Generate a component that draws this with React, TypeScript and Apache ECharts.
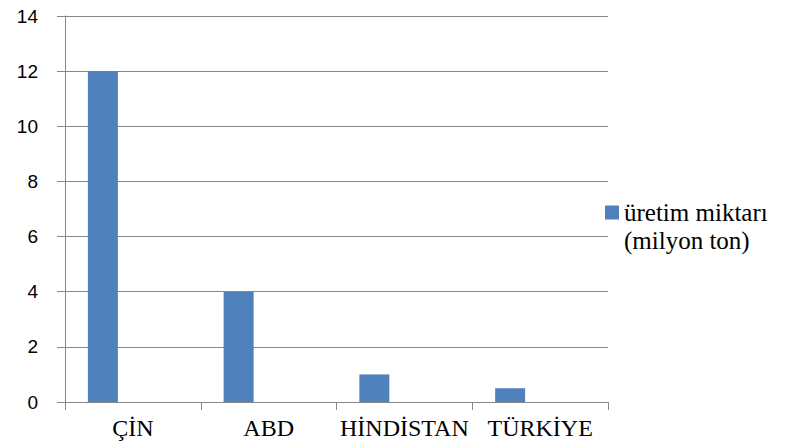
import React, { useEffect, useRef } from "react";
import * as echarts from "echarts";

const categories = ["ÇİN", "ABD", "HİNDİSTAN", "TÜRKİYE"];
const productionValues = [12, 4, 1, 0.5];
const emptyValues = [null, null, null, null];
const seriesName = "üretim miktarı (milyon ton)";
const legendLines = ["üretim miktarı", "(milyon ton)"];

export default function App() {
  const ref = useRef<HTMLDivElement>(null);

  useEffect(() => {
    if (!ref.current) return;
    const chart = echarts.init(ref.current, null, { renderer: "svg" });
    const gray = "#878787";
    chart.setOption({
      animation: false,
      backgroundColor: "#ffffff",
      textStyle: { fontFamily: "Liberation Serif", color: "#000" },
      grid: { left: 65, right: 183, top: 16, bottom: 43, containLabel: false },
      legend: {
        data: [seriesName],
        left: 605,
        top: 200,
        padding: 0,
        orient: "vertical",
        selectedMode: false,
        itemWidth: 14,
        itemHeight: 14,
        icon: "rect",
        formatter: () => legendLines[0],
        textStyle: {
          fontFamily: "Liberation Serif",
          fontSize: 25,
          color: "#000",
        },
      },
      graphic: [
        {
          type: "text",
          left: 624,
          top: 228,
          style: {
            text: legendLines[1],
            font: "25px 'Liberation Serif', 'Times New Roman', serif",
            fill: "#000",
          },
        },
      ],
      xAxis: {
        type: "category",
        data: categories,
        boundaryGap: true,
        axisLine: { show: true, lineStyle: { color: gray, width: 1 } },
        axisTick: { show: true, length: 8, lineStyle: { color: gray, width: 1 } },
        axisLabel: {
          interval: 0,
          margin: 14,
          fontFamily: "Liberation Serif",
          fontSize: 24,
          color: "#000",
        },
        splitLine: { show: false },
      },
      yAxis: {
        type: "value",
        min: 0,
        max: 14,
        interval: 2,
        axisLine: { show: true, lineStyle: { color: gray, width: 1 } },
        axisTick: { show: true, length: 8, lineStyle: { color: gray, width: 1 } },
        axisLabel: {
          margin: 27,
          fontFamily: "Liberation Sans",
          fontSize: 19,
          color: "#000",
        },
        splitLine: { show: true, lineStyle: { color: gray, width: 1 } },
      },
      series: [
        {
          name: seriesName,
          type: "bar",
          data: productionValues,
          barWidth: 30,
          barGap: "100%",
          itemStyle: { color: "#4F81BD" },
        },
        {
          name: "empty",
          type: "bar",
          data: emptyValues,
          barWidth: 30,
          itemStyle: { color: "#C0504D" },
        },
      ],
    });
    return () => chart.dispose();
  }, []);

  return (
    <div
      ref={ref}
      style={{ position: "absolute", left: 0, top: 0, width: 791, height: 445 }}
    />
  );
}
